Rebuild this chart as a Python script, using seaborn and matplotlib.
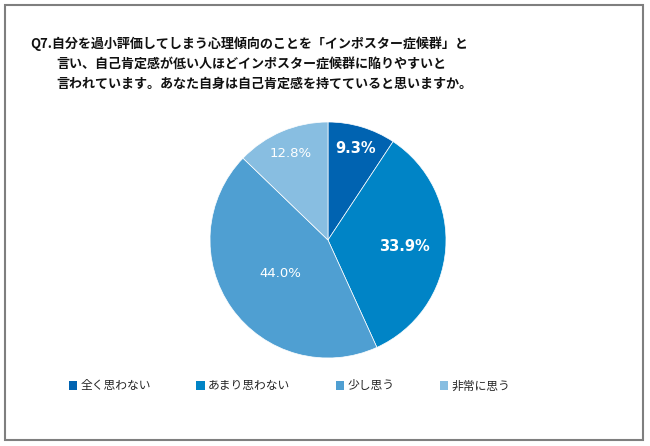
import numpy as np
import matplotlib
matplotlib.use('Agg')
import matplotlib.pyplot as plt
import seaborn as sns
from matplotlib.patches import Patch, Rectangle

# --- データ ---
categories = ['全く思わない', 'あまり思わない', '少し思う', '非常に思う']
shares = [9.3, 33.9, 44.0, 12.8]
title_lines = [
    'Q7.自分を過小評価してしまう心理傾向のことを「インポスター症候群」と',
    '言い、自己肯定感が低い人ほどインポスター症候群に陥りやすいと',
    '言われています。あなた自身は自己肯定感を持てていると思いますか。',
]

sns.set_theme(style='white')
plt.rcParams['font.family'] = ['Noto Sans CJK JP', 'DejaVu Sans']

colors = ['#0063b1', '#0084c6', '#4f9fd2', '#88bee1']
label_radius = [0.81, 0.65, 0.49, 0.80]
label_bold = [True, True, False, False]

W, H = 650, 446
fig = plt.figure(figsize=(6.5, 4.46), dpi=100)

# 円グラフ（中心 328,240 / 半径 118 px）
cx, cy, r = 328, 240, 118
ax = fig.add_axes([(cx - r) / W, (H - cy - r) / H, 2 * r / W, 2 * r / H])
wedges, texts, autotexts = ax.pie(
    shares, colors=colors, startangle=90, counterclock=False,
    autopct='%.1f%%', wedgeprops=dict(edgecolor='white', linewidth=0.5),
    textprops=dict(color='white', family='DejaVu Sans'))
ax.set_xlim(-1, 1)
ax.set_ylim(-1, 1)
ax.set_aspect('equal')

# ラベル位置をスライスごとに調整
for w, t, rad, bold in zip(wedges, autotexts, label_radius, label_bold):
    ang = np.deg2rad((w.theta1 + w.theta2) / 2)
    t.set_position((rad * np.cos(ang), rad * np.sin(ang)))
    t.set_fontweight('bold' if bold else 'normal')
    t.set_fontsize(10.5 if bold else 9.5)

# タイトル
title_pos = [(30, 44), (56, 64), (56, 84)]
for (x, y), line in zip(title_pos, title_lines):
    fig.text(x / W, 1 - y / H, line, fontsize=9.4, fontweight='bold',
             color='#111111', va='center', ha='left')

# 凡例
handles = [Patch(facecolor=c, edgecolor='none') for c in colors]
fig.legend(handles, categories, loc='center left',
           bbox_to_anchor=(58 / W, 1 - 386 / H), ncol=4, frameon=False,
           fontsize=8.5, handlelength=0.7, handleheight=0.7,
           handletextpad=0.3, columnspacing=3.85, labelcolor='#262626')

# 外枠
fig.patches.append(Rectangle((5 / W, 1 - 440 / H), 638 / W, 435 / H,
                             transform=fig.transFigure, fill=False,
                             edgecolor='#7f7f7f', linewidth=1.5))

fig.savefig('out.png', dpi=100, facecolor='white')
